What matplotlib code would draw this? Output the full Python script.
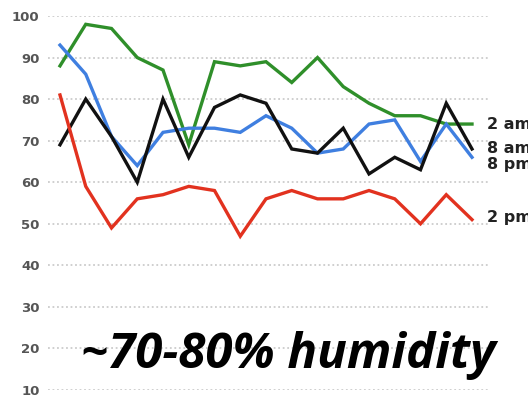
import numpy as np
import matplotlib.pyplot as plt

# humidity readings (%) for 17 days, four times of day
am2 = [88, 98, 97, 90, 87, 69, 89, 88, 89, 84, 90, 83, 79, 76, 76, 74, 74]
am8 = [69, 80, 71, 60, 80, 66, 78, 81, 79, 68, 67, 73, 62, 66, 63, 79, 68]
pm8 = [93, 86, 71, 64, 72, 73, 73, 72, 76, 73, 67, 68, 74, 75, 65, 74, 66]
pm2 = [81, 59, 49, 56, 57, 59, 58, 47, 56, 58, 56, 56, 58, 56, 50, 57, 51]
yticks = [10, 20, 30, 40, 50, 60, 70, 80, 90, 100]

days = np.arange(len(am2))

fig = plt.figure(figsize=(5.28, 3.98), dpi=100)
W, H = 528, 398
ax = fig.add_axes([48 / W, (H - 390) / H, 440 / W, 374 / H])

ax.set_xlim(-12 / 25.75, 16 + 16 / 25.75)
ax.set_ylim(10, 100)

for y in yticks:
    ax.axhline(y, color='#cccccc', lw=1.3, ls=(0, (1.0, 1.5)), zorder=0)

series = [(am2, '#2f8f2a'), (pm8, '#3f7fe0'), (am8, '#111111'), (pm2, '#e2321f')]
for vals, col in series:
    ax.plot(days, vals, color=col, lw=2.4, solid_joinstyle='miter', clip_on=False)

# end labels, cut at the right edge as in the original
lab = dict(fontsize=11.5, fontweight='bold', color='#222222', va='center', ha='left',
           clip_on=False)
ax.text(16.58, 74, '2 am', **lab)
ax.text(16.58, 68.2, '8 am', **lab)
ax.text(16.58, 64.2, '8 pm', **lab)
ax.text(16.58, 51.5, '2 pm', **lab)

ax.set_yticks(yticks)
ax.set_yticklabels([str(v) for v in yticks], fontsize=9.5, color='#555555',
                   fontweight='bold')
ax.tick_params(axis='y', length=0, pad=6)
ax.set_xticks([])
for s in ax.spines.values():
    s.set_visible(False)

fig.text(288 / W, (H - 355) / H, '~70-80% humidity', family='Open Sans',
         fontweight='bold', style='italic', fontsize=35.5, color='black',
         ha='center', va='center')

fig.savefig('out.png', dpi=100)
